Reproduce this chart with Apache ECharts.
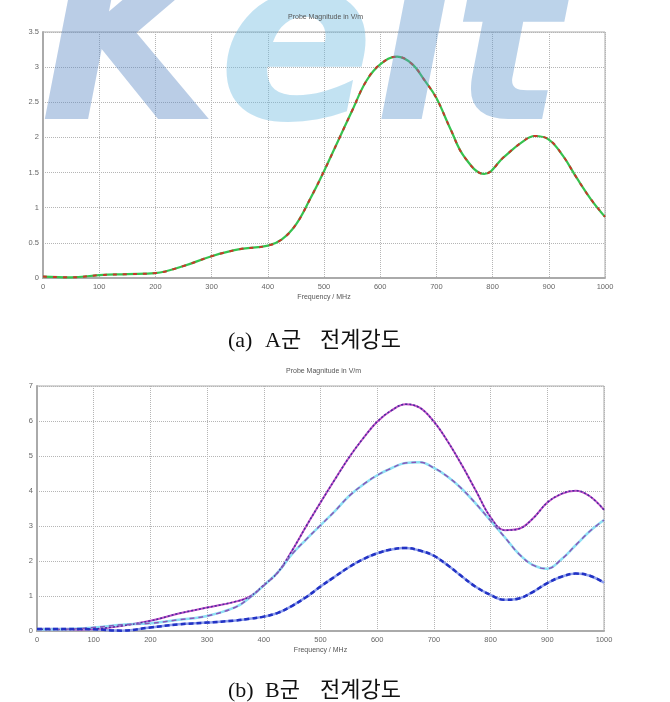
<!DOCTYPE html>
<html>
<head>
<meta charset="utf-8">
<script src="https://cdn.jsdelivr.net/npm/echarts@6/dist/echarts.min.js"></script>
<style>
  html, body { margin: 0; padding: 0; background: #fff; }
  #chart { width: 670px; height: 702px; }
</style>
</head>
<body>
<div id="chart"></div>
<script>
// (a) A군 전계강도
var freqA = [0, 50, 100, 150, 200, 250, 300, 350, 400, 425, 450, 475, 500, 525, 550, 575, 600, 630, 656, 680, 700, 725, 750, 785, 820, 850, 875, 900, 925, 950, 975, 1000];
var magA = [0.02, 0.01, 0.04, 0.055, 0.07, 0.17, 0.31, 0.41, 0.46, 0.55, 0.76, 1.12, 1.52, 1.95, 2.38, 2.8, 3.04, 3.15, 3.05, 2.8, 2.56, 2.12, 1.72, 1.48, 1.72, 1.92, 2.02, 1.97, 1.74, 1.42, 1.12, 0.87];

// (b) B군 전계강도
var freqB = [0, 50, 100, 150, 200, 250, 300, 350, 375, 400, 425, 450, 475, 500, 525, 550, 575, 600, 625, 650, 675, 700, 725, 750, 775, 800, 825, 850, 875, 900, 925, 950, 975, 1000];
var magB1 = [0.05, 0.04, 0.06, 0.15, 0.29, 0.5, 0.67, 0.84, 0.98, 1.31, 1.68, 2.3, 3.0, 3.67, 4.32, 4.95, 5.5, 5.98, 6.3, 6.48, 6.38, 5.98, 5.4, 4.72, 3.98, 3.25, 2.88, 2.92, 3.22, 3.67, 3.92, 4.01, 3.85, 3.46];
var magB2 = [0.04, 0.05, 0.1, 0.18, 0.22, 0.32, 0.43, 0.68, 0.95, 1.3, 1.68, 2.2, 2.62, 3.02, 3.42, 3.85, 4.18, 4.45, 4.65, 4.8, 4.82, 4.66, 4.4, 4.05, 3.62, 3.15, 2.68, 2.2, 1.88, 1.78, 2.05, 2.45, 2.85, 3.17];
var magB3 = [0.06, 0.06, 0.05, 0.01, 0.1, 0.19, 0.24, 0.3, 0.35, 0.41, 0.52, 0.72, 0.97, 1.27, 1.55, 1.82, 2.05, 2.22, 2.33, 2.37, 2.3, 2.15, 1.87, 1.55, 1.25, 1.03, 0.89, 0.93, 1.12, 1.37, 1.55, 1.64, 1.58, 1.38];

var freqTicks = ['0', '100', '200', '300', '400', '500', '600', '700', '800', '900', '1000'];

function pairs(xs, ys) {
    return xs.map(function (x, i) { return [x, ys[i]]; });
}

var myChart = echarts.init(document.getElementById('chart'));

var labelFont = '"Liberation Sans", Arial, sans-serif';
var captionFont = '22px "Liberation Serif", "Noto Sans CJK KR", serif';

function xAxisOf(idx) {
    return {
        gridIndex: idx,
        type: 'value',
        min: 0, max: 1000, interval: 100,
        name: 'Frequency / MHz',
        nameLocation: 'middle',
        nameGap: 16,
        nameTextStyle: { fontSize: 7, color: '#555', fontFamily: labelFont },
        axisLine: { show: true, lineStyle: { color: '#aaa', width: 2 } },
        axisTick: { show: false },
        axisLabel: {
            fontSize: 7.5, color: '#666', margin: 5, fontFamily: labelFont,
            formatter: function (v) { return freqTicks[Math.round(v / 100)]; }
        },
        splitLine: { show: true, lineStyle: { color: '#b5b5b5', type: 'dotted', width: 1 } }
    };
}

function yAxisOf(idx, max, step) {
    return {
        gridIndex: idx,
        type: 'value',
        min: 0, max: max, interval: step,
        axisLine: { show: true, lineStyle: { color: '#aaa', width: 2 } },
        axisTick: { show: false },
        axisLabel: { fontSize: 7.5, color: '#666', margin: 4, fontFamily: labelFont },
        splitLine: { show: true, lineStyle: { color: '#b5b5b5', type: 'dotted', width: 1 } }
    };
}

function line(idx, data, color, width, type, z) {
    return {
        type: 'line',
        xAxisIndex: idx, yAxisIndex: idx,
        data: data,
        smooth: 0.4,
        showSymbol: false,
        z: z,
        lineStyle: { color: color, width: width, type: type },
        animation: false
    };
}

myChart.setOption({
    backgroundColor: '#fff',
    animation: false,
    grid: [
        { left: 43, top: 32, width: 562, height: 246, show: true, borderColor: '#aaa', borderWidth: 1 },
        { left: 37, top: 386, width: 567, height: 245, show: true, borderColor: '#aaa', borderWidth: 1 }
    ],
    xAxis: [xAxisOf(0), xAxisOf(1)],
    yAxis: [yAxisOf(0, 3.5, 0.5), yAxisOf(1, 7, 1)],
    series: [
        line(0, pairs(freqA, magA), '#35c24e', 2.2, 'solid', 2),
        line(0, pairs(freqA, magA), '#c8372a', 2, [4, 6], 3),

        line(1, pairs(freqB, magB1), '#c24fc8', 2, 'solid', 2),
        line(1, pairs(freqB, magB1), '#4a2c9c', 1.5, [2, 2], 3),
        line(1, pairs(freqB, magB2), '#8ee0f4', 2.5, 'solid', 2),
        line(1, pairs(freqB, magB2), '#8a56b8', 1.5, [5, 4], 3),
        line(1, pairs(freqB, magB3), '#8fa0ec', 2.5, 'solid', 1),
        line(1, pairs(freqB, magB3), '#2232c4', 2.5, [5, 3], 3)
    ],
    graphic: [
        // KEIT watermark
        {
            type: 'text', left: 40, top: -56, z: 20, silent: true,
            style: {
                text: '{k|K}{e|e}{t|it}',
                font: 'italic bold 230px "DejaVu Sans", sans-serif',
                rich: {
                    k: { font: 'italic bold 230px "DejaVu Sans", sans-serif', fill: 'rgba(90,135,195,0.42)' },
                    e: { font: 'italic bold 230px "DejaVu Sans", sans-serif', fill: 'rgba(110,185,225,0.42)' },
                    t: { font: 'italic bold 230px "DejaVu Sans", sans-serif', fill: 'rgba(95,150,205,0.42)' }
                }
            }
        },
        {
            type: 'text', left: 288, top: 14, z: 30,
            style: { text: 'Probe Magnitude in V/m', font: '7px ' + labelFont, fill: '#555' }
        },
        {
            type: 'text', left: 286, top: 368, z: 30,
            style: { text: 'Probe Magnitude in V/m', font: '7px ' + labelFont, fill: '#555' }
        },
        { type: 'text', left: 228, top: 330, z: 30, style: { text: '(a)', font: captionFont, fill: '#111' } },
        { type: 'text', left: 265, top: 330, z: 30, style: { text: 'A군', font: captionFont, fill: '#111' } },
        { type: 'text', left: 320, top: 330, z: 30, style: { text: '전계강도', font: captionFont, fill: '#111' } },
        { type: 'text', left: 228, top: 680, z: 30, style: { text: '(b)', font: captionFont, fill: '#111' } },
        { type: 'text', left: 265, top: 680, z: 30, style: { text: 'B군', font: captionFont, fill: '#111' } },
        { type: 'text', left: 320, top: 680, z: 30, style: { text: '전계강도', font: captionFont, fill: '#111' } }
    ]
});
</script>
</body>
</html>
